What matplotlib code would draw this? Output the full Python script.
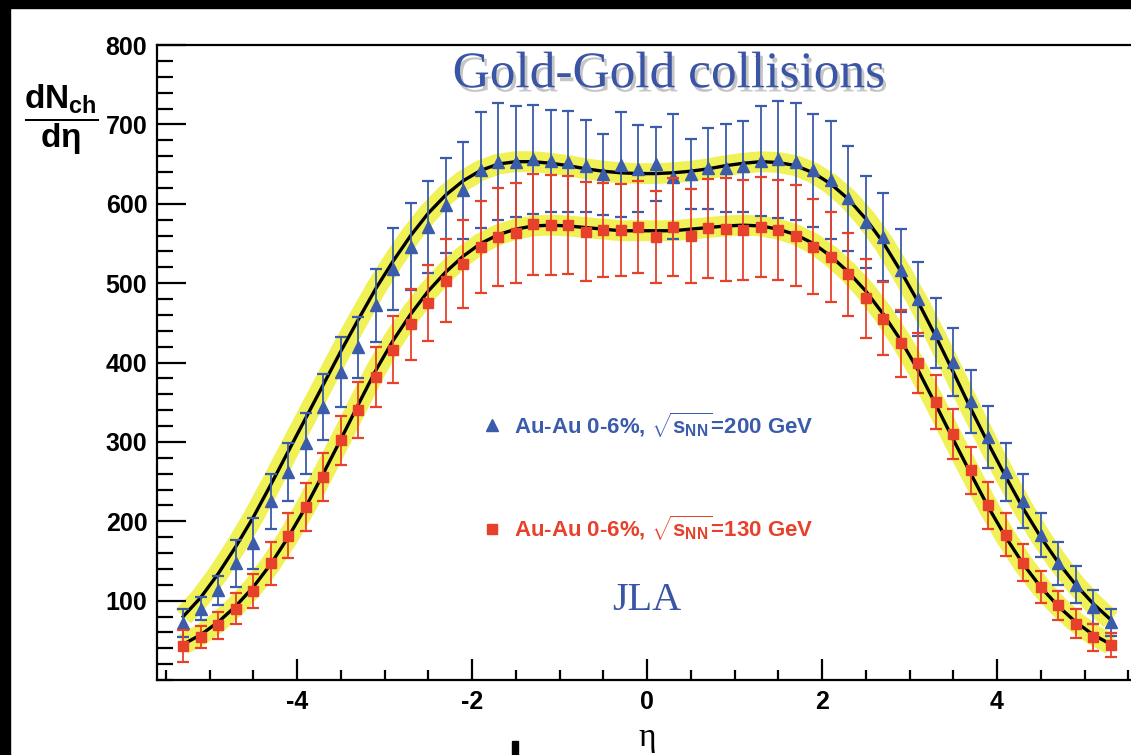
import matplotlib
matplotlib.use("Agg")
import matplotlib.pyplot as plt
import matplotlib.patheffects as pe
from matplotlib.lines import Line2D
from matplotlib.patches import Rectangle
from matplotlib.ticker import FixedLocator, MultipleLocator

# pseudorapidity bins
eta = [-5.3, -5.1, -4.9, -4.7, -4.5, -4.3, -4.1, -3.9, -3.7, -3.5, -3.3, -3.1, -2.9, -2.7,
       -2.5, -2.3, -2.1, -1.9, -1.7, -1.5, -1.3, -1.1, -0.9, -0.7, -0.5, -0.3, -0.1,
       0.1, 0.3, 0.5, 0.7, 0.9, 1.1, 1.3, 1.5, 1.7, 1.9, 2.1, 2.3, 2.5, 2.7, 2.9,
       3.1, 3.3, 3.5, 3.7, 3.9, 4.1, 4.3, 4.5, 4.7, 4.9, 5.1, 5.3]

# Au-Au 0-6%, sqrt(s_NN) = 200 GeV
dn_200 = [72, 90, 113, 147, 172, 225, 262, 298, 344, 388, 419, 472, 518, 546, 571, 598, 617, 642,
          653, 653, 656, 654, 653, 648, 637, 649, 644,
          650, 634, 638, 645, 645, 647, 654, 656, 653, 642, 630, 607, 577, 558, 516, 480, 437,
          401, 351, 306, 262, 225, 183, 147, 120, 92, 73]
err_200 = [18, 14, 18, 30, 32, 35, 36, 39, 42, 44, 38, 46, 52, 55, 58, 60, 61, 73,
           74, 70, 69, 64, 64, 58, 51, 66, 55,
           47, 79, 44, 51, 55, 57, 69, 74, 74, 71, 74, 66, 58, 55, 52, 47, 44,
           43, 40, 39, 36, 34, 28, 27, 23, 21, 17]
fit_200 = [80, 104, 134, 168, 205, 246, 288, 330, 372, 414, 454, 493, 528, 560, 588, 611, 629, 642,
           650, 653, 653, 651, 648, 644, 641, 639, 638,
           638, 639, 641, 644, 648, 651, 653, 652, 648, 639, 625, 606, 581, 551, 515, 476, 433,
           388, 342, 298, 256, 216, 180, 148, 120, 96, 76]

# Au-Au 0-6%, sqrt(s_NN) = 130 GeV
dn_130 = [43, 54, 69, 90, 112, 147, 182, 218, 256, 302, 340, 382, 416, 448, 475, 503, 524, 546,
          558, 563, 574, 573, 573, 565, 567, 567, 571,
          558, 571, 559, 569, 568, 567, 571, 567, 560, 546, 533, 511, 481, 455, 424, 399, 350,
          310, 264, 220, 183, 148, 117, 94, 71, 54, 44]
err_130 = [20, 14, 17, 20, 21, 27, 28, 30, 30, 31, 35, 38, 42, 45, 48, 52, 55, 58,
           62, 63, 64, 63, 62, 62, 59, 58, 58,
           58, 62, 59, 62, 65, 63, 63, 63, 63, 60, 57, 52, 50, 46, 42, 38, 34,
           32, 30, 30, 27, 23, 20, 18, 18, 17, 15]
fit_130 = [45, 57, 73, 93, 117, 146, 180, 218, 260, 303, 347, 390, 428, 461, 490, 514, 534, 550,
           561, 568, 572, 573, 572, 570, 568, 566, 566,
           566, 566, 568, 570, 572, 573, 572, 568, 561, 550, 534, 514, 490, 461, 428, 390, 347,
           303, 260, 218, 180, 146, 117, 93, 73, 57, 45]

x_major = [-4, -2, 0, 2, 4]
y_major = [100, 200, 300, 400, 500, 600, 700, 800]

BLUE = "#3b5bab"
RED = "#e8412b"
YELLOW = "#eeee3a"
TEXT_BLUE = "#3a54a6"

plt.rcParams["font.family"] = ["Liberation Sans", "DejaVu Sans"]
plt.rcParams["font.weight"] = "bold"
plt.rcParams["axes.unicode_minus"] = False
plt.rcParams["mathtext.fontset"] = "custom"
plt.rcParams["mathtext.rm"] = "Liberation Sans:bold"
plt.rcParams["mathtext.it"] = "Liberation Sans:bold"
plt.rcParams["mathtext.bf"] = "Liberation Sans:bold"

W, H = 1131, 755
fig = plt.figure(figsize=(W / 100, H / 100), dpi=100)
fig.patch.set_facecolor("white")

# black border of the screenshot
fig.patches.append(Rectangle((0, 1 - 8 / H), 1, 8 / H, transform=fig.transFigure, color="black", zorder=10))
fig.patches.append(Rectangle((0, 0), 10 / W, 1, transform=fig.transFigure, color="black", zorder=10))
fig.patches.append(Rectangle((512 / W, 0), 6 / W, 14 / H, transform=fig.transFigure, color="black", zorder=10))

ax = fig.add_axes([157 / W, 75 / H, 980 / W, 635 / H])
ax.set_xlim(-5.6, 5.6)
ax.set_ylim(0, 800)

# fitted curves with yellow band
for fit in (fit_200, fit_130):
    ax.plot(eta, fit, color=YELLOW, lw=15, alpha=0.85, solid_capstyle="butt", zorder=1)
    ax.plot(eta, fit, color="black", lw=2.4, zorder=2)

ax.errorbar(eta, dn_200, yerr=err_200, fmt="^", color=BLUE, ms=8.5, mec=BLUE,
            elinewidth=1.3, capsize=4, capthick=1.6, zorder=3)
ax.errorbar(eta, dn_130, yerr=err_130, fmt="s", color=RED, ms=6.5, mec=RED,
            elinewidth=1.3, capsize=4, capthick=1.6, zorder=4)

# axes styling (ROOT look)
for side in ("left", "bottom", "top"):
    ax.spines[side].set_linewidth(1.6)
ax.spines["right"].set_visible(False)

ax.xaxis.set_major_locator(FixedLocator(x_major))
ax.xaxis.set_minor_locator(MultipleLocator(0.5))
ax.yaxis.set_major_locator(FixedLocator(y_major))
ax.yaxis.set_minor_locator(MultipleLocator(20))
ax.tick_params(axis="x", which="major", direction="in", length=15, width=1.6, pad=7, labelsize=18)
ax.tick_params(axis="x", which="minor", direction="in", length=7.5, width=1.6)
ax.tick_params(axis="y", which="major", direction="in", length=21, width=1.6, pad=7, labelsize=18)
ax.tick_params(axis="y", which="minor", direction="in", length=11.5, width=1.6)
for lab in ax.get_xticklabels() + ax.get_yticklabels():
    lab.set_fontweight("bold")

ax.set_xlabel("η", family="Liberation Serif", fontweight="normal", fontsize=24, labelpad=6)

fig.text(61 / W, 1 - 120 / H, r"$\dfrac{dN_{ch}}{d\eta}$", ha="center", va="center", fontsize=24)

title = fig.text(669 / W, 1 - 75 / H, "Gold-Gold collisions", family="Liberation Serif",
                 fontweight="normal", fontsize=37, color=TEXT_BLUE, ha="center", va="center")
title.set_path_effects([pe.SimplePatchShadow(offset=(2, -3), shadow_rgbFace="0.55", alpha=0.5), pe.Normal()])

ax.text(0, 100, "JLA", family="Liberation Serif", fontweight="normal", fontsize=29,
        color=TEXT_BLUE, ha="center", va="center")

handles = [
    Line2D([], [], ls="none", marker="^", ms=9, color=BLUE),
    Line2D([], [], ls="none", marker="s", ms=7, color=RED),
]
labels = [r"Au-Au 0-6%, $\sqrt{s_{NN}}$=200 GeV", r"Au-Au 0-6%, $\sqrt{s_{NN}}$=130 GeV"]
leg = ax.legend(handles, labels, loc="upper left", bbox_to_anchor=(0.31, 0.457), frameon=False,
                fontsize=16, labelspacing=3.35, handlelength=1.0, handletextpad=0.5)
for txt, c in zip(leg.get_texts(), (BLUE, RED)):
    txt.set_color(c)

fig.savefig("out.png", dpi=100, facecolor="white")
